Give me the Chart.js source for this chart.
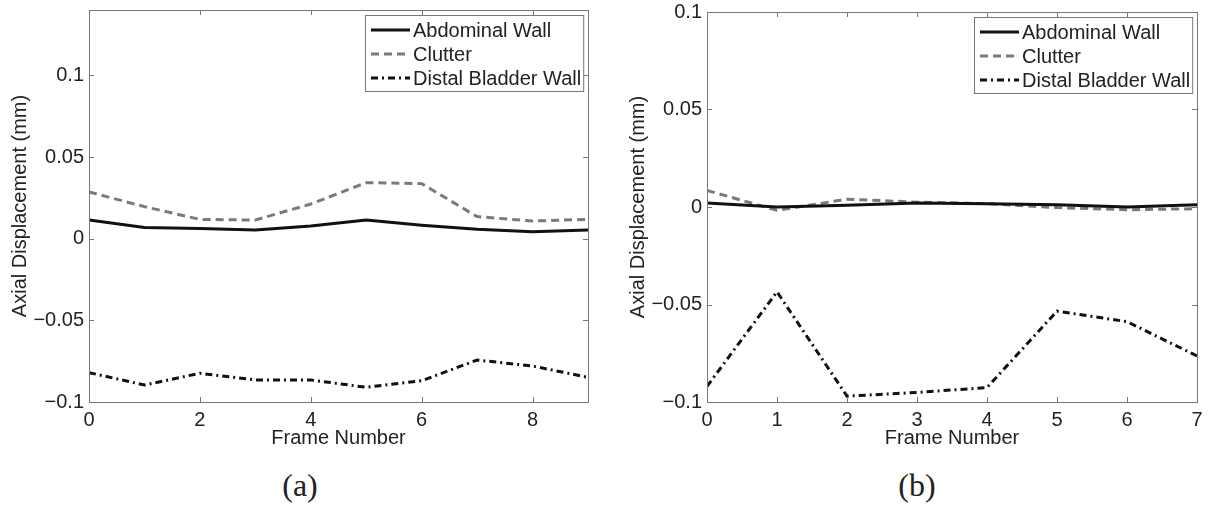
<!DOCTYPE html>
<html lang="en">
<head>
  <meta charset="UTF-8">
  <title>Axial Displacement vs Frame Number</title>
  <script src="https://cdn.jsdelivr.net/npm/chart.js"></script>
  <style>
    body {
      margin: 0;
      background: #fff;
    }

    .page {
      position: relative;
      width: 1220px;
      height: 510px;
      background: #fff;
      overflow: hidden;
    }

    .panel {
      position: absolute;
      top: 0;
      width: 610px;
      height: 460px;
    }

    .caption {
      position: absolute;
      top: 467px;
      width: 120px;
      text-align: center;
      font-family: "Liberation Serif", "Times New Roman", serif;
      font-size: 32px;
      line-height: 36px;
      color: #222;
    }
  </style>
</head>
<body>
  <div class="page">
    <div class="panel" style="left: 0;"><canvas id="chartA"></canvas></div>
    <div class="panel" style="left: 610px;"><canvas id="chartB"></canvas></div>
    <div class="caption" style="left: 240px;">(a)</div>
    <div class="caption" style="left: 857px;">(b)</div>
  </div>

  <script>
    // panel (a)
    const framesA = [0, 1, 2, 3, 4, 5, 6, 7, 8, 9];
    const abdominalA = [0.0114, 0.0069, 0.0063, 0.0053, 0.0078, 0.0114, 0.0082, 0.0057, 0.0043, 0.0053];
    const clutterA = [0.0286, 0.0196, 0.0118, 0.0114, 0.0212, 0.0343, 0.0337, 0.0135, 0.0108, 0.0118];
    const distalA = [-0.0820, -0.0896, -0.0824, -0.0865, -0.0865, -0.0910, -0.0870, -0.0743, -0.0780, -0.0849];
    const xTicksA = [0, 2, 4, 6, 8];
    const yTicksA = [-0.1, -0.05, 0, 0.05, 0.1];

    // panel (b)
    const framesB = [0, 1, 2, 3, 4, 5, 6, 7];
    const abdominalB = [0.0020, 0.0000, 0.0009, 0.0020, 0.0017, 0.0012, 0.0000, 0.0012];
    const clutterB = [0.0085, -0.0017, 0.0040, 0.0025, 0.0017, -0.0003, -0.0014, -0.0009];
    const distalB = [-0.0920, -0.0435, -0.0970, -0.0951, -0.0926, -0.0534, -0.0588, -0.0764];
    const xTicksB = [0, 1, 2, 3, 4, 5, 6, 7];
    const yTicksB = [-0.1, -0.05, 0, 0.05, 0.1];

    const seriesNames = ['Abdominal Wall', 'Clutter', 'Distal Bladder Wall'];

    Chart.defaults.font.family = '"Liberation Sans", Arial, sans-serif';
    Chart.defaults.font.size = 20;
    Chart.defaults.color = '#222';

    const frameColor = '#777';

    // box round the plot + matlab style inward tick marks
    const framePlugin = {
      id: 'framePlugin',
      afterDatasetsDraw(chart) {
        const ctx = chart.ctx;
        const { left, right, top, bottom } = chart.chartArea;
        ctx.save();
        ctx.strokeStyle = frameColor;
        ctx.lineWidth = 1;
        ctx.setLineDash([]);
        ctx.strokeRect(Math.round(left) + 0.5, Math.round(top) + 0.5, Math.round(right - left), Math.round(bottom - top));
        ctx.beginPath();
        chart.scales.x.ticks.forEach(t => {
          const px = Math.round(chart.scales.x.getPixelForValue(t.value)) + 0.5;
          ctx.moveTo(px, bottom); ctx.lineTo(px, bottom - 5);
          ctx.moveTo(px, top); ctx.lineTo(px, top + 5);
        });
        chart.scales.y.ticks.forEach(t => {
          const py = Math.round(chart.scales.y.getPixelForValue(t.value)) + 0.5;
          ctx.moveTo(left, py); ctx.lineTo(left + 5, py);
          ctx.moveTo(right, py); ctx.lineTo(right - 5, py);
        });
        ctx.stroke();
        ctx.restore();
      }
    };

    // legend box in the upper right corner of the plot
    const boxLegend = {
      id: 'boxLegend',
      afterDatasetsDraw(chart) {
        const ctx = chart.ctx;
        const area = chart.chartArea;
        const sets = chart.data.datasets;
        ctx.save();
        ctx.font = '20px "Liberation Sans", Arial, sans-serif';
        const textW = Math.max(...sets.map(d => ctx.measureText(d.label).width));
        const w = 48 + textW + 2;
        const h = 76;
        const x0 = Math.round(area.right - 5 - w);
        const y0 = Math.round(area.top + 5);
        ctx.fillStyle = '#fff';
        ctx.fillRect(x0, y0, w, h);
        ctx.strokeStyle = frameColor;
        ctx.lineWidth = 1;
        ctx.strokeRect(x0 + 0.5, y0 + 0.5, w, h);
        sets.forEach((d, i) => {
          const y = y0 + 15 + i * 24;
          ctx.beginPath();
          ctx.setLineDash(d.borderDash || []);
          ctx.strokeStyle = d.borderColor;
          ctx.lineWidth = d.borderWidth;
          ctx.moveTo(x0 + 6, y);
          ctx.lineTo(x0 + 45, y);
          ctx.stroke();
          ctx.setLineDash([]);
          ctx.fillStyle = '#222';
          ctx.textBaseline = 'middle';
          ctx.fillText(d.label, x0 + 48, y + 1);
        });
        ctx.restore();
      }
    };

    function fmt(v) {
      if (v === 0) return '0';
      const s = String(Math.round(v * 1000) / 1000);
      return s.replace('-', '\u2212');
    }

    function toPoints(xs, ys) {
      return xs.map((x, i) => ({ x: x, y: ys[i] }));
    }

    function makeChart(id, frames, abd, clu, dis, xTicks, yTicks, yMax, yAxisWidth, padRight, padTop, titlePad) {
      const ctx = document.getElementById(id).getContext('2d');
      return new Chart(ctx, {
        type: 'line',
        data: {
          datasets: [
            {
              label: seriesNames[0],
              data: toPoints(frames, abd),
              borderColor: '#111',
              borderWidth: 3,
              pointRadius: 0,
              tension: 0
            },
            {
              label: seriesNames[1],
              data: toPoints(frames, clu),
              borderColor: '#7a7a7a',
              borderWidth: 3,
              borderDash: [8, 5],
              pointRadius: 0,
              tension: 0
            },
            {
              label: seriesNames[2],
              data: toPoints(frames, dis),
              borderColor: '#111',
              borderWidth: 3,
              borderDash: [7, 4, 2, 4],
              pointRadius: 0,
              tension: 0
            }
          ]
        },
        options: {
          responsive: true,
          maintainAspectRatio: false,
          animation: false,
          layout: {
            padding: { left: 0, right: padRight, top: padTop, bottom: 0 }
          },
          plugins: {
            legend: { display: false },
            tooltip: { enabled: false }
          },
          scales: {
            x: {
              type: 'linear',
              min: frames[0],
              max: frames[frames.length - 1],
              afterBuildTicks: s => { s.ticks = xTicks.map(v => ({ value: v })); },
              afterFit: s => { s.height = 58; s.paddingRight = 0; },
              grid: { display: false, drawTicks: false },
              border: { display: false },
              ticks: { padding: 6, color: '#222', callback: v => fmt(v) },
              title: {
                display: true,
                text: 'Frame Number',
                color: '#222',
                padding: { top: 0, bottom: 10 }
              }
            },
            y: {
              min: -0.1,
              max: yMax,
              afterBuildTicks: s => { s.ticks = yTicks.map(v => ({ value: v })); },
              afterFit: s => { s.width = yAxisWidth; s.paddingTop = 0; s.paddingBottom = 0; },
              grid: { display: false, drawTicks: false },
              border: { display: false },
              ticks: { padding: 5, color: '#222', callback: v => fmt(v) },
              title: {
                display: true,
                text: 'Axial Displacement (mm)',
                color: '#222',
                padding: { top: titlePad, bottom: 0 }
              }
            }
          }
        },
        plugins: [framePlugin, boxLegend]
      });
    }

    makeChart('chartA', framesA, abdominalA, clutterA, distalA, xTicksA, yTicksA, 0.14, 89, 22, 10, 8);
    makeChart('chartB', framesB, abdominalB, clutterB, distalB, xTicksB, yTicksB, 0.1, 97, 23, 12, 16);
  </script>
</body>
</html>
